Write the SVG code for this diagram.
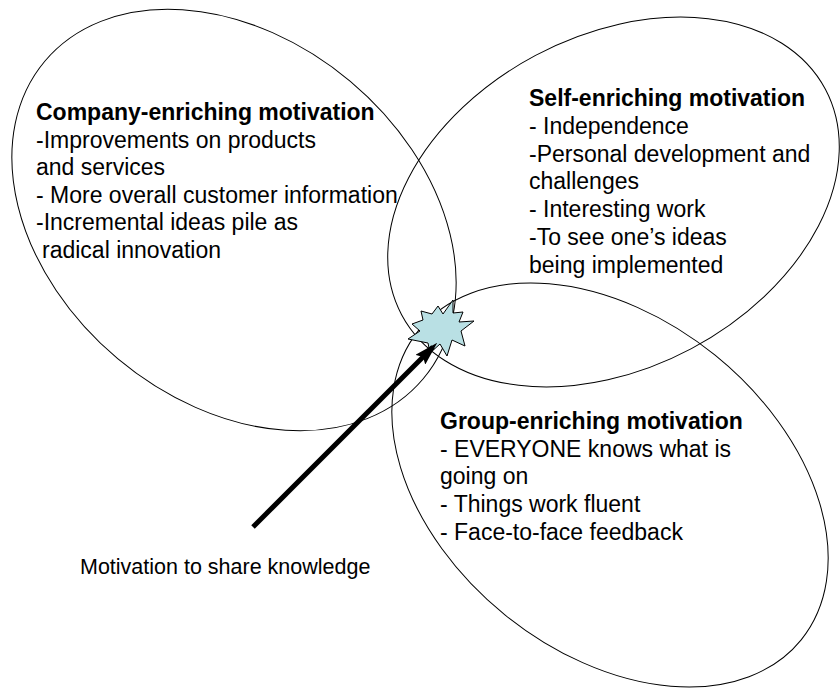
<svg xmlns="http://www.w3.org/2000/svg" width="840" height="689" viewBox="0 0 840 689">
  <style>
    .ring { fill: none; stroke: #000; stroke-width: 1; }
    .txt { font-family: "Liberation Sans", Arial, sans-serif; font-size: 23px; fill: #000; }
    .head { font-weight: bold; }
    .caption { font-family: "Liberation Sans", Arial, sans-serif; font-size: 21.5px; fill: #000; }
    .burst { fill: #B9E0E4; stroke: #000; stroke-width: 1; stroke-linejoin: miter; }
    .shaft { stroke: #000; stroke-width: 5; fill: none; }
  </style>
  <defs>
    <marker id="arrowhead" markerUnits="userSpaceOnUse" viewBox="0 0 24 14" markerWidth="24" markerHeight="14" refX="18" refY="7" orient="auto">
      <path d="M0,0 L24,7 L0,14 L4,7 z" fill="#000"/>
    </marker>
  </defs>

  <!-- company-enriching motivation -->
  <g id="company">
    <ellipse class="ring" cx="234" cy="220" rx="247" ry="181" transform="rotate(40 234 220)"/>
    <text class="txt head" x="36" y="120" font-size="23.3">Company-enriching motivation</text>
    <text class="txt" x="36" y="147.6">-Improvements on products</text>
    <text class="txt" x="36" y="175.2">and services</text>
    <text class="txt" x="36" y="202.8">- More overall customer information</text>
    <text class="txt" x="36" y="230.4">-Incremental ideas pile as</text>
    <text class="txt" x="42" y="258">radical innovation</text>
  </g>

  <!-- self-enriching motivation -->
  <g id="self">
    <ellipse class="ring" cx="613.5" cy="202" rx="240" ry="166" transform="rotate(-28 613.5 202)"/>
    <text class="txt head" x="529" y="106">Self-enriching motivation</text>
    <text class="txt" x="529" y="133.8">- Independence</text>
    <text class="txt" x="529" y="161.6">-Personal development and</text>
    <text class="txt" x="529" y="189.4">challenges</text>
    <text class="txt" x="529" y="217.2">- Interesting work</text>
    <text class="txt" x="529" y="245">-To see one’s ideas</text>
    <text class="txt" x="529" y="272.8">being implemented</text>
  </g>

  <!-- group-enriching motivation -->
  <g id="group">
    <ellipse class="ring" cx="610" cy="485" rx="246" ry="167" transform="rotate(39 610 485)"/>
    <text class="txt head" x="440" y="429">Group-enriching motivation</text>
    <text class="txt" x="440" y="456.7">- EVERYONE knows what is</text>
    <text class="txt" x="440" y="484.4">going on</text>
    <text class="txt" x="440" y="512.1">- Things work fluent</text>
    <text class="txt" x="440" y="539.8">- Face-to-face feedback</text>
  </g>

  <!-- burst where the three motivations meet -->
  <g id="burst">
    <polygon class="burst" points="453,300 453,313 463,312 459,322 474,321 461,331 465,346 452,340 447,356 440,344 430,353 428,343 408,339 420,331 412,324 423,320 421,311 432,314 438,306 443,314"/>
  </g>

  <!-- caption for the arrow -->
  <g id="caption">
    <text class="caption" x="80" y="574">Motivation to share knowledge</text>
  </g>

  <g id="connectors">
    <line class="shaft" x1="253" y1="527" x2="433" y2="347" marker-end="url(#arrowhead)"/>
  </g>
</svg>
